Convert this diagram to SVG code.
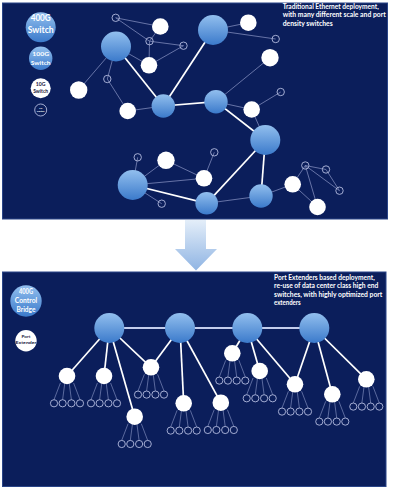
<svg xmlns="http://www.w3.org/2000/svg" width="400" height="490" viewBox="0 0 400 490">
<defs>
<linearGradient id="gb" x1="0" y1="0" x2="0" y2="1">
<stop offset="0" stop-color="#92bfee"/>
<stop offset="1" stop-color="#3b7acb"/>
</linearGradient>
<linearGradient id="ga" x1="0" y1="0" x2="0" y2="1">
<stop offset="0" stop-color="#e4eef9"/>
<stop offset="1" stop-color="#8fb4e3"/>
</linearGradient>
<style>
.panel{fill:#0b1e5b;stroke:#2a4588;stroke-width:1}
.blue{fill:url(#gb)}
.white{fill:#ffffff}
.hollow{fill:none;stroke:#b3bbdf;stroke-width:0.9}
.thin{stroke:#7d89ba;stroke-width:0.8;fill:none}
.thick{stroke:#ffffff;stroke-width:1.7;fill:none}
.bar{stroke:#c3cdec;stroke-width:1.8;fill:none}
.fan{stroke:#7d89ba;stroke-width:0.7;fill:none}
.t{font-family:Lato,"Liberation Sans",sans-serif;font-weight:bold;fill:#ffffff}
.d{fill:#1a1a40}
</style>
</defs>
<rect width="400" height="490" fill="#ffffff"/>
<rect class="panel" x="2.5" y="3" width="385" height="216"/>
<rect class="panel" x="2.5" y="272" width="383.5" height="214.5"/>
<polygon id="arrow" points="185,220 206,220 206,249 217,249 196,270.5 175,249 185,249" fill="url(#ga)"/>

<g id="top-connectors">
<line class="thin" x1="115.7" y1="17.8" x2="160.3" y2="26.5"/>
<line class="thin" x1="115.7" y1="17.8" x2="149.5" y2="41.2"/>
<line class="thin" x1="149.5" y1="41.2" x2="160.3" y2="26.5"/>
<line class="thin" x1="149.5" y1="41.2" x2="183.5" y2="45.7"/>
<line class="thin" x1="149.5" y1="41.2" x2="149" y2="65.3"/>
<line class="thin" x1="183.5" y1="45.7" x2="149" y2="65.3"/>
<line class="thin" x1="116" y1="46.5" x2="149" y2="65.3"/>
<line class="thin" x1="116" y1="46.5" x2="78.7" y2="90"/>
<line class="thin" x1="116" y1="46.5" x2="107.3" y2="79"/>
<line class="thin" x1="107.3" y1="79" x2="127.7" y2="111"/>
<line class="thin" x1="163.3" y1="106" x2="127.7" y2="111"/>
<line class="thin" x1="213" y1="30" x2="248.3" y2="22.7"/>
<line class="thin" x1="213" y1="30" x2="275.7" y2="39"/>
<line class="thin" x1="270" y1="57.7" x2="216" y2="101.7"/>
<line class="thin" x1="280.7" y1="92" x2="251.7" y2="109.5"/>
<line class="thin" x1="216" y1="101.7" x2="251.7" y2="109.5"/>
<line class="thin" x1="251.7" y1="109.5" x2="265.3" y2="140"/>
<line class="thin" x1="214.3" y1="152.3" x2="204" y2="178.3"/>
<line class="thin" x1="206.7" y1="203.3" x2="261" y2="196"/>
<line class="thin" x1="261" y1="196" x2="292.7" y2="184.3"/>
<line class="thin" x1="292.7" y1="184.3" x2="305.3" y2="165.5"/>
<line class="thin" x1="305.3" y1="165.5" x2="326" y2="169.5"/>
<line class="thin" x1="305.3" y1="165.5" x2="317.5" y2="207"/>
<line class="thin" x1="305.3" y1="165.5" x2="339.5" y2="190.7"/>
<line class="thin" x1="326" y1="169.5" x2="339.5" y2="190.7"/>
<line class="thin" x1="292.7" y1="184.3" x2="317.5" y2="207"/>
<line class="thin" x1="132.7" y1="185" x2="137.7" y2="157.3"/>
<line class="thin" x1="132.7" y1="185" x2="166" y2="160.3"/>
<line class="thin" x1="166" y1="160.3" x2="204" y2="178.3"/>
<line class="thin" x1="132.7" y1="185" x2="204" y2="178.3"/>
<line class="thin" x1="132.7" y1="185" x2="161.7" y2="203.7"/>
<line class="thick" x1="116" y1="46.5" x2="163.3" y2="106"/>
<line class="thick" x1="163.3" y1="106" x2="213" y2="30"/>
<line class="thick" x1="163.3" y1="106" x2="216" y2="101.7"/>
<line class="thick" x1="216" y1="101.7" x2="265.3" y2="140"/>
<line class="thick" x1="265.3" y1="140" x2="206.7" y2="203.3"/>
<line class="thick" x1="265.3" y1="140" x2="261" y2="196"/>
<line class="thick" x1="132.7" y1="185" x2="206.7" y2="203.3"/>
</g>

<g id="top-nodes">
<g id="B1"><circle class="blue" cx="116" cy="46.5" r="15"/></g>
<g id="B2"><circle class="blue" cx="213" cy="30" r="15"/></g>
<g id="B3"><circle class="blue" cx="265.3" cy="140" r="15"/></g>
<g id="B4"><circle class="blue" cx="132.7" cy="185" r="15"/></g>
<g id="M1"><circle class="blue" cx="163.3" cy="106" r="11.7"/></g>
<g id="M2"><circle class="blue" cx="216" cy="101.7" r="11.7"/></g>
<g id="M3"><circle class="blue" cx="261" cy="196" r="11.7"/></g>
<g id="M4"><circle class="blue" cx="206.7" cy="203.3" r="11.3"/></g>
<g id="W1"><circle class="white" cx="160.3" cy="26.5" r="8.3"/></g>
<g id="W2"><circle class="white" cx="149" cy="65.3" r="8.3"/></g>
<g id="W3"><circle class="white" cx="78.7" cy="90" r="8.7"/></g>
<g id="W4"><circle class="white" cx="127.7" cy="111" r="8.3"/></g>
<g id="W5"><circle class="white" cx="248.3" cy="22.7" r="8.3"/></g>
<g id="W6"><circle class="white" cx="270" cy="57.7" r="8.7"/></g>
<g id="W7"><circle class="white" cx="251.7" cy="109.5" r="8.3"/></g>
<g id="W8"><circle class="white" cx="166" cy="160.3" r="8.7"/></g>
<g id="W9"><circle class="white" cx="204" cy="178.3" r="8.3"/></g>
<g id="W10"><circle class="white" cx="292.7" cy="184.3" r="8.3"/></g>
<g id="W11"><circle class="white" cx="317.5" cy="207" r="8.3"/></g>
<g id="H1"><circle class="hollow" cx="115.7" cy="17.8" r="3.7"/></g>
<g id="H2"><circle class="hollow" cx="149.5" cy="41.2" r="3.7"/></g>
<g id="H3"><circle class="hollow" cx="183.5" cy="45.7" r="3.7"/></g>
<g id="H4"><circle class="hollow" cx="107.3" cy="79" r="3.7"/></g>
<g id="H5"><circle class="hollow" cx="275.7" cy="39" r="3.7"/></g>
<g id="H6"><circle class="hollow" cx="280.7" cy="92" r="3.7"/></g>
<g id="H7"><circle class="hollow" cx="214.3" cy="152.3" r="3.7"/></g>
<g id="H8"><circle class="hollow" cx="137.7" cy="157.3" r="3.7"/></g>
<g id="H9"><circle class="hollow" cx="161.7" cy="203.7" r="3.7"/></g>
<g id="H10"><circle class="hollow" cx="305.3" cy="165.5" r="3.7"/></g>
<g id="H11"><circle class="hollow" cx="326" cy="169.5" r="3.7"/></g>
<g id="H12"><circle class="hollow" cx="339.5" cy="190.7" r="3.7"/></g>
</g>

<g id="top-legend">
<g id="leg-400G"><circle class="blue" cx="40.7" cy="27.3" r="15"/>
<text class="t" x="40.7" y="20.7" font-size="8.5" text-anchor="middle" textLength="20" lengthAdjust="spacingAndGlyphs">400G</text>
<text class="t" x="40.7" y="33.3" font-size="8.5" text-anchor="middle" textLength="26" lengthAdjust="spacingAndGlyphs">Switch</text></g>
<g id="leg-100G"><circle class="blue" cx="40.7" cy="58.3" r="11.7"/>
<text class="t" x="40.7" y="56" font-size="6" text-anchor="middle" textLength="16.7" lengthAdjust="spacingAndGlyphs">100G</text>
<text class="t" x="40.7" y="65" font-size="6" text-anchor="middle" textLength="19.7" lengthAdjust="spacingAndGlyphs">Switch</text></g>
<g id="leg-10G"><circle class="white" cx="40.7" cy="88.3" r="10"/>
<text class="t d" x="40.7" y="86" font-size="4.8" text-anchor="middle" textLength="9.7" lengthAdjust="spacingAndGlyphs">10G</text>
<text class="t d" x="40.7" y="92.7" font-size="4.8" text-anchor="middle" textLength="15" lengthAdjust="spacingAndGlyphs">Switch</text></g>
<g id="leg-1G"><circle class="hollow" cx="40.7" cy="110" r="6"/>
<text class="t" x="40.7" y="109" font-size="2.6" text-anchor="middle">1G</text>
<text class="t" x="40.7" y="112.4" font-size="2.6" text-anchor="middle">Switch</text></g>
</g>

<g id="top-caption">
<text class="t" x="282.7" y="9" font-size="7" textLength="96" lengthAdjust="spacingAndGlyphs">Traditional Ethernet deployment,</text>
<text class="t" x="282.7" y="17.3" font-size="7" textLength="103" lengthAdjust="spacingAndGlyphs">with many different scale and port</text>
<text class="t" x="282.7" y="25.6" font-size="7" textLength="50" lengthAdjust="spacingAndGlyphs">density switches</text>
</g>

<g id="bottom-connectors">
<line class="bar" x1="109.3" y1="328" x2="314.3" y2="328"/>
<line class="thick" x1="109.3" y1="328" x2="67" y2="376"/>
<line class="thick" x1="109.3" y1="328" x2="104" y2="376"/>
<line class="thick" x1="109.3" y1="328" x2="134.7" y2="416.7"/>
<line class="thick" x1="109.3" y1="328" x2="151" y2="367.3"/>
<line class="thick" x1="180" y1="328" x2="151" y2="367.3"/>
<line class="thick" x1="180" y1="328" x2="183.7" y2="403.3"/>
<line class="thick" x1="180" y1="328" x2="220.8" y2="402.7"/>
<line class="thick" x1="247.3" y1="328" x2="232.3" y2="353.3"/>
<line class="thick" x1="247.3" y1="328" x2="259.7" y2="371"/>
<line class="thick" x1="247.3" y1="328" x2="295" y2="384.3"/>
<line class="thick" x1="314.3" y1="328" x2="295" y2="384.3"/>
<line class="thick" x1="314.3" y1="328" x2="332.3" y2="394.3"/>
<line class="thick" x1="314.3" y1="328" x2="366.3" y2="379.3"/>
<path class="fan" d="M60.4 383 L54 399.7 M64.8 383 L62.6 399.7 M69.2 383 L71.4 399.7 M73.6 383 L80 399.7"/>
<path class="fan" d="M97.4 383 L91 399.7 M101.8 383 L99.6 399.7 M106.2 383 L108.4 399.7 M110.6 383 L117 399.7"/>
<path class="fan" d="M144.4 374.3 L138 391 M148.8 374.3 L146.6 391 M153.2 374.3 L155.4 391 M157.6 374.3 L164 391"/>
<path class="fan" d="M128.1 423.7 L121.7 440.4 M132.5 423.7 L130.3 440.4 M136.9 423.7 L139.1 440.4 M141.3 423.7 L147.7 440.4"/>
<path class="fan" d="M177.1 410.3 L170.7 427 M181.5 410.3 L179.3 427 M185.9 410.3 L188.1 427 M190.3 410.3 L196.7 427"/>
<path class="fan" d="M225.7 360.3 L219.3 377 M230.1 360.3 L227.9 377 M234.5 360.3 L236.7 377 M238.9 360.3 L245.3 377"/>
<path class="fan" d="M253.1 378 L246.7 394.7 M257.5 378 L255.3 394.7 M261.9 378 L264.1 394.7 M266.3 378 L272.7 394.7"/>
<path class="fan" d="M214.2 409.7 L207.8 426.4 M218.6 409.7 L216.4 426.4 M223 409.7 L225.2 426.4 M227.4 409.7 L233.8 426.4"/>
<path class="fan" d="M288.4 391.3 L282 408 M292.8 391.3 L290.6 408 M297.2 391.3 L299.4 408 M301.6 391.3 L308 408"/>
<path class="fan" d="M325.7 401.3 L319.3 418 M330.1 401.3 L327.9 418 M334.5 401.3 L336.7 418 M338.9 401.3 L345.3 418"/>
<path class="fan" d="M359.7 386.3 L353.3 403 M364.1 386.3 L361.9 403 M368.5 386.3 L370.7 403 M372.9 386.3 L379.3 403"/>
</g>

<g id="bottom-nodes">
<g id="CB1"><circle class="blue" cx="109.3" cy="328" r="15"/></g>
<g id="CB2"><circle class="blue" cx="180" cy="328" r="15"/></g>
<g id="CB3"><circle class="blue" cx="247.3" cy="328" r="15"/></g>
<g id="CB4"><circle class="blue" cx="314.3" cy="328" r="15"/></g>
<g id="PE1"><circle class="white" cx="67" cy="376" r="8.3"/><g class="hollow"><circle cx="54" cy="403.3" r="3.6"/><circle cx="62.6" cy="403.3" r="3.6"/><circle cx="71.4" cy="403.3" r="3.6"/><circle cx="80" cy="403.3" r="3.6"/></g></g>
<g id="PE2"><circle class="white" cx="104" cy="376" r="8.3"/><g class="hollow"><circle cx="91" cy="403.3" r="3.6"/><circle cx="99.6" cy="403.3" r="3.6"/><circle cx="108.4" cy="403.3" r="3.6"/><circle cx="117" cy="403.3" r="3.6"/></g></g>
<g id="PE3"><circle class="white" cx="151" cy="367.3" r="8.3"/><g class="hollow"><circle cx="138" cy="394.6" r="3.6"/><circle cx="146.6" cy="394.6" r="3.6"/><circle cx="155.4" cy="394.6" r="3.6"/><circle cx="164" cy="394.6" r="3.6"/></g></g>
<g id="PE4"><circle class="white" cx="134.7" cy="416.7" r="8.3"/><g class="hollow"><circle cx="121.7" cy="444" r="3.6"/><circle cx="130.3" cy="444" r="3.6"/><circle cx="139.1" cy="444" r="3.6"/><circle cx="147.7" cy="444" r="3.6"/></g></g>
<g id="PE5"><circle class="white" cx="183.7" cy="403.3" r="8.3"/><g class="hollow"><circle cx="170.7" cy="430.6" r="3.6"/><circle cx="179.3" cy="430.6" r="3.6"/><circle cx="188.1" cy="430.6" r="3.6"/><circle cx="196.7" cy="430.6" r="3.6"/></g></g>
<g id="PE6"><circle class="white" cx="232.3" cy="353.3" r="8.3"/><g class="hollow"><circle cx="219.3" cy="380.6" r="3.6"/><circle cx="227.9" cy="380.6" r="3.6"/><circle cx="236.7" cy="380.6" r="3.6"/><circle cx="245.3" cy="380.6" r="3.6"/></g></g>
<g id="PE7"><circle class="white" cx="259.7" cy="371" r="8.3"/><g class="hollow"><circle cx="246.7" cy="398.3" r="3.6"/><circle cx="255.3" cy="398.3" r="3.6"/><circle cx="264.1" cy="398.3" r="3.6"/><circle cx="272.7" cy="398.3" r="3.6"/></g></g>
<g id="PE8"><circle class="white" cx="220.8" cy="402.7" r="8.3"/><g class="hollow"><circle cx="207.8" cy="430" r="3.6"/><circle cx="216.4" cy="430" r="3.6"/><circle cx="225.2" cy="430" r="3.6"/><circle cx="233.8" cy="430" r="3.6"/></g></g>
<g id="PE9"><circle class="white" cx="295" cy="384.3" r="8.3"/><g class="hollow"><circle cx="282" cy="411.6" r="3.6"/><circle cx="290.6" cy="411.6" r="3.6"/><circle cx="299.4" cy="411.6" r="3.6"/><circle cx="308" cy="411.6" r="3.6"/></g></g>
<g id="PE10"><circle class="white" cx="332.3" cy="394.3" r="8.3"/><g class="hollow"><circle cx="319.3" cy="421.6" r="3.6"/><circle cx="327.9" cy="421.6" r="3.6"/><circle cx="336.7" cy="421.6" r="3.6"/><circle cx="345.3" cy="421.6" r="3.6"/></g></g>
<g id="PE11"><circle class="white" cx="366.3" cy="379.3" r="8.3"/><g class="hollow"><circle cx="353.3" cy="406.6" r="3.6"/><circle cx="361.9" cy="406.6" r="3.6"/><circle cx="370.7" cy="406.6" r="3.6"/><circle cx="379.3" cy="406.6" r="3.6"/></g></g>
</g>

<g id="bottom-legend">
<g id="leg-cb"><circle class="blue" cx="26" cy="301" r="15.7"/>
<text class="t" x="26" y="294.3" font-size="7" text-anchor="middle" textLength="14" lengthAdjust="spacingAndGlyphs">400G</text>
<text class="t" x="26" y="303.3" font-size="7" text-anchor="middle" textLength="22.3" lengthAdjust="spacingAndGlyphs">Control</text>
<text class="t" x="26" y="312" font-size="7" text-anchor="middle" textLength="19" lengthAdjust="spacingAndGlyphs">Bridge</text></g>
<g id="leg-pe"><circle class="white" cx="26" cy="340.7" r="10.7"/>
<text class="t d" x="26" y="338.3" font-size="4.5" text-anchor="middle" textLength="9" lengthAdjust="spacingAndGlyphs">Port</text>
<text class="t d" x="26" y="343.8" font-size="4.5" text-anchor="middle" textLength="21" lengthAdjust="spacingAndGlyphs">Extender</text></g>
</g>

<g id="bottom-caption">
<text class="t" x="274" y="280" font-size="7" textLength="100.7" lengthAdjust="spacingAndGlyphs">Port Extenders based deployment,</text>
<text class="t" x="274" y="288.3" font-size="7" textLength="104.3" lengthAdjust="spacingAndGlyphs">re-use of data center class high end</text>
<text class="t" x="274" y="296.6" font-size="7" textLength="108.3" lengthAdjust="spacingAndGlyphs">switches, with highly optimized port</text>
<text class="t" x="274" y="304.9" font-size="7" textLength="26.7" lengthAdjust="spacingAndGlyphs">extenders</text>
</g>
</svg>
